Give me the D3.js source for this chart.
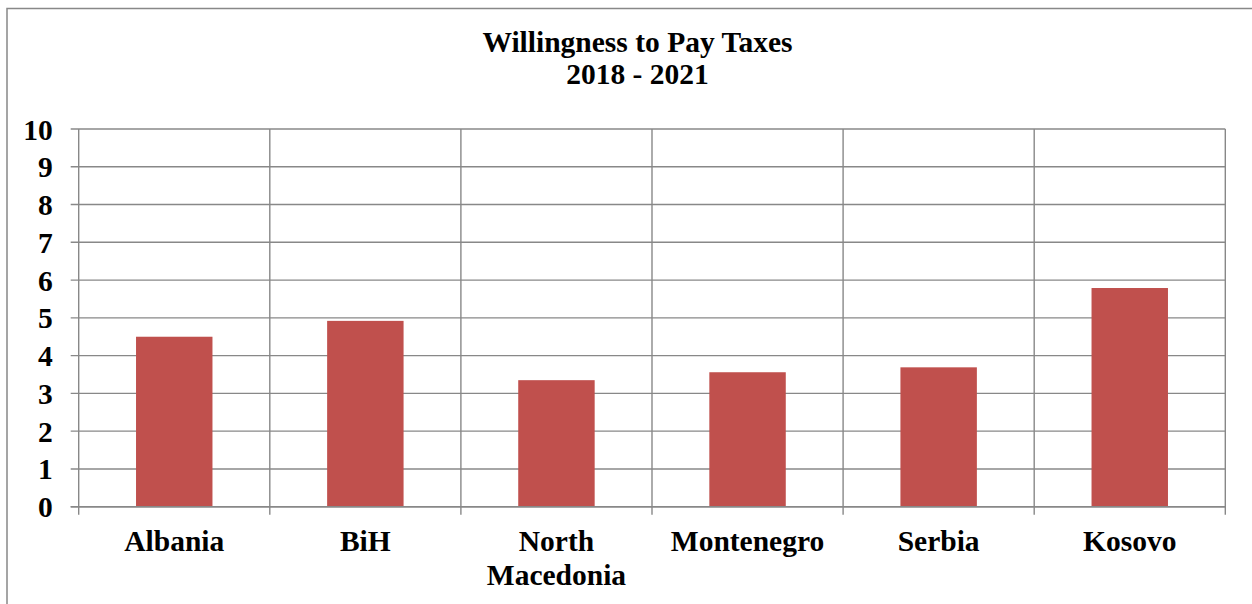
<!DOCTYPE html>
<html>
<head>
<meta charset="utf-8">
<script src="https://cdn.jsdelivr.net/npm/d3@7"></script>
<style>
  html, body { margin: 0; padding: 0; background: #fff; }
  svg { display: block; }
  text { font-family: "Liberation Serif", "Times New Roman", serif; font-weight: bold; fill: #000; }
</style>
</head>
<body>
<svg id="chart" width="1252" height="604"></svg>
<script>
const categories = ["Albania", "BiH", "North Macedonia", "Montenegro", "Serbia", "Kosovo"];
const categoryLines = [["Albania"], ["BiH"], ["North", "Macedonia"], ["Montenegro"], ["Serbia"], ["Kosovo"]];
const values = [4.5, 4.92, 3.35, 3.56, 3.69, 5.79];
const yTicks = [0, 1, 2, 3, 4, 5, 6, 7, 8, 9, 10];
const titleLines = ["Willingness to Pay Taxes", "2018 - 2021"];

const W = 1252, H = 604;
const plot = { left: 78.7, right: 1225.3, top: 129, bottom: 506.7 };
const gridColor = "#888888";
const barColor = "#C0504D";
const fs = 29.5;

const svg = d3.select("#chart");

// outer chart border (extends past right/bottom edges of the frame)
svg.append("rect")
  .attr("x", 7).attr("y", 8.5)
  .attr("width", 1400).attr("height", 800)
  .attr("fill", "none").attr("stroke", gridColor).attr("stroke-width", 1.5);

const x = d3.scaleBand().domain(categories)
  .range([plot.left, plot.right]).paddingInner(0.6).paddingOuter(0.3);
const y = d3.scaleLinear().domain([0, 10]).range([plot.bottom, plot.top]);

const step = x.step();
const bounds = categories.map(c => x(c) - step * 0.3).concat([plot.right]);

// horizontal gridlines (incl. left ticks)
svg.append("g").selectAll("line").data(yTicks).join("line")
  .attr("x1", plot.left - 8).attr("x2", plot.right)
  .attr("y1", d => y(d)).attr("y2", d => y(d))
  .attr("stroke", gridColor).attr("stroke-width", 1.4);

// vertical gridlines (incl. bottom ticks)
svg.append("g").selectAll("line").data(bounds).join("line")
  .attr("x1", d => d).attr("x2", d => d)
  .attr("y1", plot.top).attr("y2", plot.bottom + 8)
  .attr("stroke", gridColor).attr("stroke-width", 1.4);

// bars
svg.append("g").selectAll("rect").data(values).join("rect")
  .attr("x", (d, i) => x(categories[i]))
  .attr("width", x.bandwidth())
  .attr("y", d => y(d))
  .attr("height", d => y(0) - y(d))
  .attr("fill", barColor);

// redraw zero line on top of bars
svg.append("line")
  .attr("x1", plot.left - 8).attr("x2", plot.right)
  .attr("y1", y(0)).attr("y2", y(0))
  .attr("stroke", gridColor).attr("stroke-width", 1.4);

// y axis labels via d3 axis
const yAxis = svg.append("g")
  .attr("transform", `translate(${plot.left},0)`)
  .call(d3.axisLeft(y).tickValues(yTicks).tickSize(8).tickPadding(18).tickFormat(d3.format("d")));
yAxis.select(".domain").remove();
yAxis.selectAll(".tick line").remove();
yAxis.selectAll(".tick text")
  .attr("font-family", "'Liberation Serif', 'Times New Roman', serif")
  .attr("font-weight", "bold")
  .attr("font-size", fs)
  .attr("fill", "#000")
  .attr("dy", "0.34em");

// x labels
const xl = svg.append("g").selectAll("text").data(categories).join("text")
  .attr("text-anchor", "middle")
  .attr("font-size", fs)
  .attr("x", d => x(d) + x.bandwidth() / 2)
  .attr("y", 550.5);
xl.each(function(d, i) {
  const t = d3.select(this);
  categoryLines[i].forEach((line, j) => {
    t.append("tspan")
      .attr("x", x(d) + x.bandwidth() / 2)
      .attr("dy", j === 0 ? 0 : 34)
      .text(line);
  });
});

// title
svg.append("g").selectAll("text").data(titleLines).join("text")
  .attr("text-anchor", "middle")
  .attr("font-size", fs)
  .attr("x", 637.5)
  .attr("y", (d, i) => 51.7 + i * 32.3)
  .text(d => d);
</script>
</body>
</html>
